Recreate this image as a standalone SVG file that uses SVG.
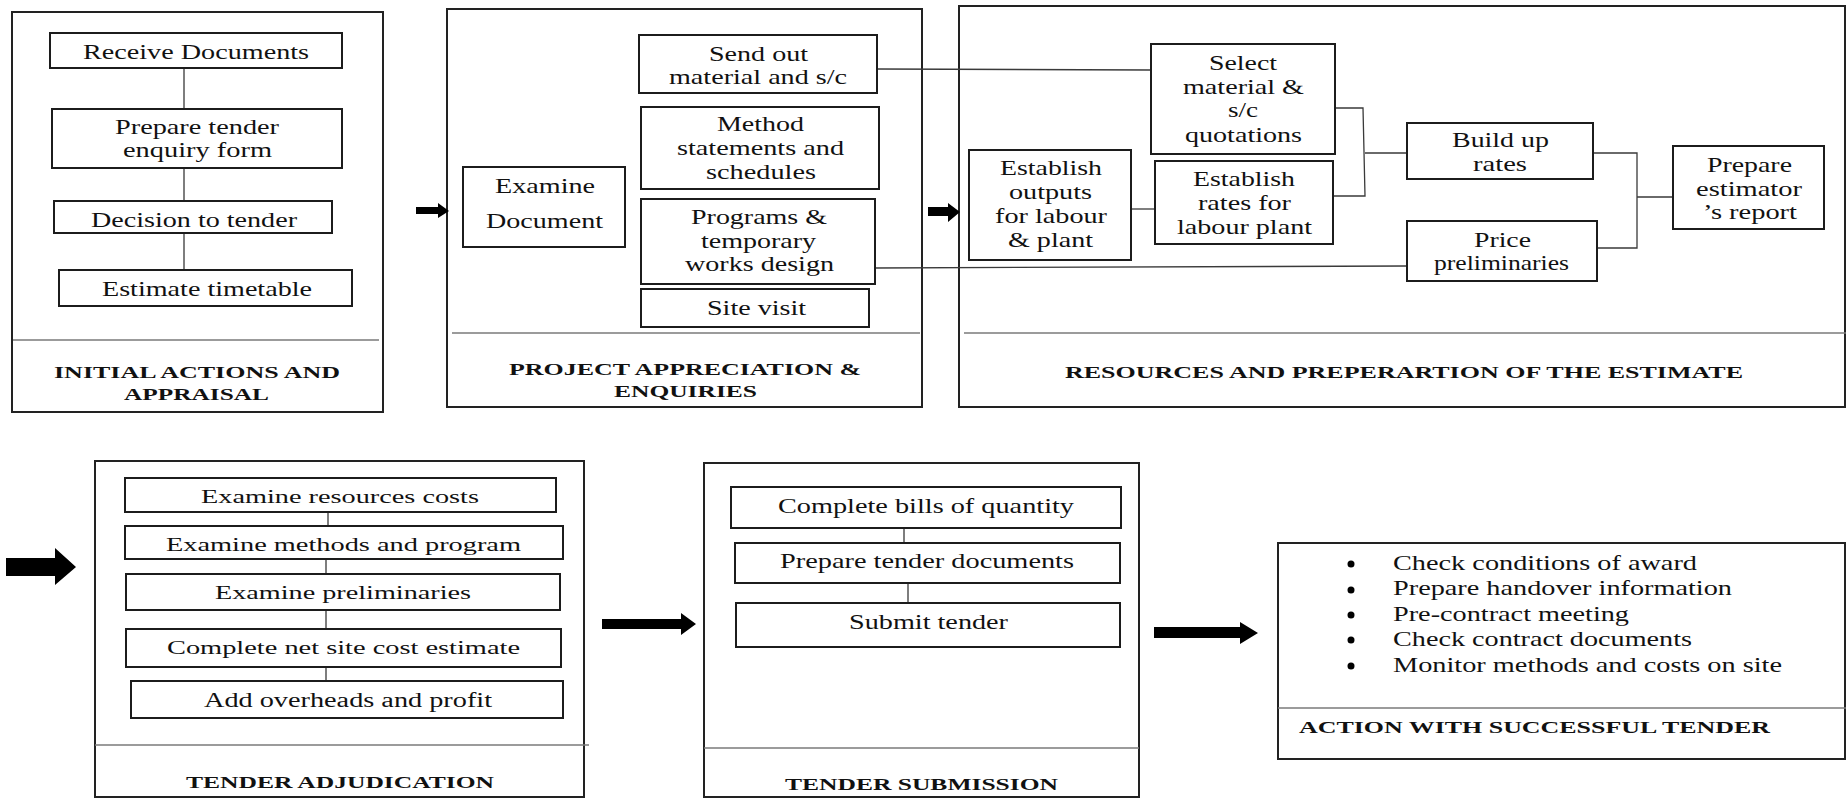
<svg xmlns="http://www.w3.org/2000/svg" width="1847" height="798" viewBox="0 0 1847 798">
  <style>
    .panel { fill: #fff; stroke: #222; stroke-width: 2; }
    .box { fill: #fff; stroke: #1c1c1c; stroke-width: 2; }
    .div { stroke: #7a7a7a; stroke-width: 1.5; fill: none; }
    .conn { fill: none; stroke: #3a3a3a; stroke-width: 1.3; }
    .arrow { fill: #000; stroke: none; }
    text { font-family: 'Liberation Serif', 'DejaVu Serif', serif; fill: #111; }
    .n { font-size: 21px; }
    .s19 { font-size: 19px; }
    .s18 { font-size: 18px; }
    .s20 { font-size: 20px; }
    .title { font-size: 17.5px; font-weight: bold; }
  </style>
  <rect x="0" y="0" width="1847" height="798" fill="#fff"/>

  <g font-family="Liberation Serif, DejaVu Serif, serif">
  <!-- stage panels -->
  <g id="panel-initial">
    <rect class="panel" x="12" y="12" width="371" height="400"/>
    <line class="div" x1="13" y1="340" x2="379" y2="340"/>
    <text class="title" x="54" y="378" textLength="286" lengthAdjust="spacingAndGlyphs">INITIAL ACTIONS AND</text>
    <text class="title" x="124" y="400" textLength="145" lengthAdjust="spacingAndGlyphs">APPRAISAL</text>
  </g>
  <g id="panel-appreciation">
    <rect class="panel" x="447" y="9" width="475" height="398"/>
    <line class="div" x1="452" y1="333" x2="920" y2="333"/>
    <text class="title" x="509" y="375" textLength="352" lengthAdjust="spacingAndGlyphs">PROJECT APPRECIATION &amp;</text>
    <text class="title" x="614" y="397" textLength="143" lengthAdjust="spacingAndGlyphs">ENQUIRIES</text>
  </g>
  <g id="panel-resources">
    <rect class="panel" x="959" y="6" width="886" height="401"/>
    <line class="div" x1="964" y1="333" x2="1846" y2="333"/>
    <text class="title" x="1065" y="378" textLength="678" lengthAdjust="spacingAndGlyphs">RESOURCES AND PREPERARTION OF THE ESTIMATE</text>
  </g>
  <g id="panel-adjudication">
    <rect class="panel" x="95" y="461" width="489" height="336"/>
    <line class="div" x1="95" y1="745" x2="589" y2="745"/>
    <text class="title" x="186" y="788" textLength="308" lengthAdjust="spacingAndGlyphs">TENDER ADJUDICATION</text>
  </g>
  <g id="panel-submission">
    <rect class="panel" x="704" y="463" width="435" height="334"/>
    <line class="div" x1="704" y1="748" x2="1139" y2="748"/>
    <text class="title" x="785" y="790" textLength="273" lengthAdjust="spacingAndGlyphs">TENDER SUBMISSION</text>
  </g>
  <g id="panel-successful">
    <rect class="panel" x="1278" y="543" width="567" height="216"/>
    <line class="div" x1="1278" y1="708" x2="1846" y2="708"/>
    <text class="title" x="1299" y="733" textLength="471" lengthAdjust="spacingAndGlyphs">ACTION WITH SUCCESSFUL TENDER</text>
    <g class="arrow">
      <circle cx="1351" cy="564" r="3.5"/>
      <circle cx="1351" cy="590" r="3.5"/>
      <circle cx="1351" cy="615" r="3.5"/>
      <circle cx="1351" cy="640" r="3.5"/>
      <circle cx="1351" cy="666" r="3.5"/>
    </g>
    <text class="n" x="1393" y="570" textLength="304" lengthAdjust="spacingAndGlyphs">Check conditions of award</text>
    <text class="n" x="1393" y="595" textLength="339" lengthAdjust="spacingAndGlyphs">Prepare handover information</text>
    <text class="n" x="1393" y="621" textLength="236" lengthAdjust="spacingAndGlyphs">Pre-contract meeting</text>
    <text class="n" x="1393" y="646" textLength="299" lengthAdjust="spacingAndGlyphs">Check contract documents</text>
    <text class="n" x="1393" y="672" textLength="389" lengthAdjust="spacingAndGlyphs">Monitor methods and costs on site</text>
  </g>

  <!-- connectors and stage arrows -->
  <g id="connectors">
    <path class="conn" d="M184 68V109 M184 168V201 M184 233V270"/>
    <path class="conn" d="M877 69L1151 70"/>
    <path class="conn" d="M875 268L1407 266"/>
    <path class="conn" d="M1131 209H1155"/>
    <path class="conn" d="M1335 108H1363L1365 196H1333 M1365 153H1407"/>
    <path class="conn" d="M1594 153H1637V248H1597 M1637 197H1673"/>
    <path class="conn" d="M328 512V526 M326 559V574 M326 610V629 M326 667V681"/>
    <path class="conn" d="M904 528V543 M908 583V603"/>
    <path class="arrow" d="M416 207H438V203L449 211L438 218V214H416Z"/>
    <path class="arrow" d="M928 207H948V203L960 212L948 222V216H928Z"/>
    <path class="arrow" d="M6 558H55V548L76 567L55 585V576H6Z"/>
    <path class="arrow" d="M602 619H681V613L696 624L681 635V629H602Z"/>
    <path class="arrow" d="M1154 627H1240V622L1258 633L1240 644V638H1154Z"/>
  </g>

  <!-- initial actions -->
  <g id="n-receive">
    <rect class="box" x="50" y="33" width="292" height="35"/>
    <text class="n" x="83" y="59" textLength="226" lengthAdjust="spacingAndGlyphs">Receive Documents</text>
  </g>
  <g id="n-enquiry-form">
    <rect class="box" x="52" y="109" width="290" height="59"/>
    <text class="n" x="115" y="134" textLength="164" lengthAdjust="spacingAndGlyphs">Prepare tender</text>
    <text class="n" x="123" y="157" textLength="149" lengthAdjust="spacingAndGlyphs">enquiry form</text>
  </g>
  <g id="n-decision">
    <rect class="box" x="54" y="201" width="278" height="32"/>
    <text class="n" x="91" y="227" textLength="206" lengthAdjust="spacingAndGlyphs">Decision to tender</text>
  </g>
  <g id="n-timetable">
    <rect class="box" x="59" y="270" width="293" height="36"/>
    <text class="n" x="102" y="296" textLength="210" lengthAdjust="spacingAndGlyphs">Estimate timetable</text>
  </g>

  <!-- project appreciation -->
  <g id="n-examine-doc">
    <rect class="box" x="463" y="167" width="162" height="80"/>
    <text class="n" x="495" y="193" textLength="100" lengthAdjust="spacingAndGlyphs">Examine</text>
    <text class="n" x="486" y="228" textLength="117" lengthAdjust="spacingAndGlyphs">Document</text>
  </g>
  <g id="n-send-out">
    <rect class="box" x="639" y="35" width="238" height="58"/>
    <text class="n" x="709" y="61" textLength="99" lengthAdjust="spacingAndGlyphs">Send out</text>
    <text class="n" x="669" y="84" textLength="178" lengthAdjust="spacingAndGlyphs">material and s/c</text>
  </g>
  <g id="n-method">
    <rect class="box" x="641" y="107" width="238" height="82"/>
    <text class="n" x="717" y="131" textLength="87" lengthAdjust="spacingAndGlyphs">Method</text>
    <text class="n" x="677" y="155" textLength="167" lengthAdjust="spacingAndGlyphs">statements and</text>
    <text class="n" x="706" y="179" textLength="110" lengthAdjust="spacingAndGlyphs">schedules</text>
  </g>
  <g id="n-programs">
    <rect class="box" x="641" y="199" width="234" height="85"/>
    <text class="n" x="691" y="224" textLength="136" lengthAdjust="spacingAndGlyphs">Programs &amp;</text>
    <text class="n" x="701" y="248" textLength="115" lengthAdjust="spacingAndGlyphs">temporary</text>
    <text class="n" x="685" y="271" textLength="149" lengthAdjust="spacingAndGlyphs">works design</text>
  </g>
  <g id="n-site-visit">
    <rect class="box" x="641" y="289" width="228" height="38"/>
    <text class="n" x="707" y="315" textLength="99" lengthAdjust="spacingAndGlyphs">Site visit</text>
  </g>

  <!-- resources and estimate -->
  <g id="n-outputs">
    <rect class="box" x="969" y="150" width="162" height="110"/>
    <text class="n" x="1000" y="175" textLength="102" lengthAdjust="spacingAndGlyphs">Establish</text>
    <text class="n" x="1009" y="199" textLength="83" lengthAdjust="spacingAndGlyphs">outputs</text>
    <text class="n" x="995" y="223" textLength="112" lengthAdjust="spacingAndGlyphs">for labour</text>
    <text class="n" x="1008" y="247" textLength="85" lengthAdjust="spacingAndGlyphs">&amp; plant</text>
  </g>
  <g id="n-select">
    <rect class="box" x="1151" y="44" width="184" height="110"/>
    <text class="n" x="1209" y="70" textLength="68" lengthAdjust="spacingAndGlyphs">Select</text>
    <text class="n" x="1183" y="94" textLength="121" lengthAdjust="spacingAndGlyphs">material &amp;</text>
    <text class="n" x="1228" y="117" textLength="30" lengthAdjust="spacingAndGlyphs">s/c</text>
    <text class="n" x="1185" y="142" textLength="117" lengthAdjust="spacingAndGlyphs">quotations</text>
  </g>
  <g id="n-rates">
    <rect class="box" x="1155" y="161" width="178" height="83"/>
    <text class="n" x="1193" y="186" textLength="102" lengthAdjust="spacingAndGlyphs">Establish</text>
    <text class="n" x="1198" y="210" textLength="93" lengthAdjust="spacingAndGlyphs">rates for</text>
    <text class="n" x="1177" y="234" textLength="135" lengthAdjust="spacingAndGlyphs">labour plant</text>
  </g>
  <g id="n-build-up">
    <rect class="box" x="1407" y="123" width="186" height="56"/>
    <text class="n" x="1452" y="147" textLength="97" lengthAdjust="spacingAndGlyphs">Build up</text>
    <text class="n" x="1473" y="171" textLength="54" lengthAdjust="spacingAndGlyphs">rates</text>
  </g>
  <g id="n-price">
    <rect class="box" x="1407" y="221" width="190" height="60"/>
    <text class="n" x="1474" y="247" textLength="57" lengthAdjust="spacingAndGlyphs">Price</text>
    <text class="n" x="1434" y="270" textLength="135" lengthAdjust="spacingAndGlyphs">preliminaries</text>
  </g>
  <g id="n-report">
    <rect class="box" x="1673" y="146" width="151" height="83"/>
    <text class="n" x="1707" y="172" textLength="85" lengthAdjust="spacingAndGlyphs">Prepare</text>
    <text class="n" x="1696" y="196" textLength="106" lengthAdjust="spacingAndGlyphs">estimator</text>
    <text class="n" x="1703" y="219" textLength="94" lengthAdjust="spacingAndGlyphs">’s report</text>
  </g>

  <!-- tender adjudication -->
  <g id="n-resources-costs">
    <rect class="box" x="125" y="478" width="431" height="34"/>
    <text class="s18" x="201" y="503" textLength="278" lengthAdjust="spacingAndGlyphs">Examine resources costs</text>
  </g>
  <g id="n-methods-program">
    <rect class="box" x="125" y="526" width="438" height="33"/>
    <text class="s19" x="166" y="551" textLength="355" lengthAdjust="spacingAndGlyphs">Examine methods and program</text>
  </g>
  <g id="n-preliminaries">
    <rect class="box" x="126" y="574" width="434" height="36"/>
    <text class="s19" x="215" y="599" textLength="256" lengthAdjust="spacingAndGlyphs">Examine preliminaries</text>
  </g>
  <g id="n-net-cost">
    <rect class="box" x="126" y="629" width="435" height="38"/>
    <text class="s19" x="167" y="654" textLength="353" lengthAdjust="spacingAndGlyphs">Complete net site cost estimate</text>
  </g>
  <g id="n-overheads">
    <rect class="box" x="131" y="681" width="432" height="37"/>
    <text class="s20" x="204" y="707" textLength="288" lengthAdjust="spacingAndGlyphs">Add overheads and profit</text>
  </g>

  <!-- tender submission -->
  <g id="n-bills">
    <rect class="box" x="731" y="487" width="390" height="41"/>
    <text class="n" x="778" y="513" textLength="296" lengthAdjust="spacingAndGlyphs">Complete bills of quantity</text>
  </g>
  <g id="n-tender-docs">
    <rect class="box" x="735" y="543" width="385" height="40"/>
    <text class="n" x="780" y="568" textLength="294" lengthAdjust="spacingAndGlyphs">Prepare tender documents</text>
  </g>
  <g id="n-submit">
    <rect class="box" x="736" y="603" width="384" height="44"/>
    <text class="n" x="849" y="629" textLength="159" lengthAdjust="spacingAndGlyphs">Submit tender</text>
  </g>
  </g>
</svg>
